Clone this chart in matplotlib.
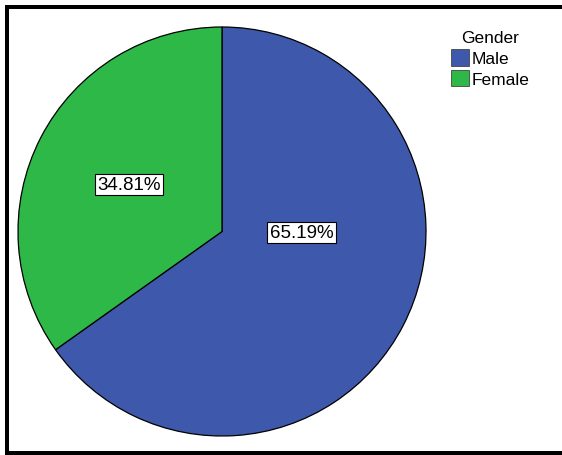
import matplotlib
matplotlib.use("Agg")
import matplotlib.pyplot as plt
from matplotlib.patches import Patch
from matplotlib.lines import Line2D
import numpy as np

plt.rcParams['font.family'] = ['Liberation Sans', 'DejaVu Sans']

categories = ["Male", "Female"]
percentages = [65.19, 34.81]
colors = ["#3E58AC", "#2EB848"]

W, H = 562, 456
fig = plt.figure(figsize=(W / 100, H / 100), dpi=100)
fig.patch.set_facecolor("white")

# axes sized so the unit circle fills the pie area
left, right, top, bottom = 18, 426, 28, 437
ax = fig.add_axes([left / W, 1 - bottom / H, (right - left) / W, (bottom - top) / H])
wedges, _ = ax.pie(percentages, colors=colors, startangle=90, counterclock=False,
                   radius=1.0, center=(0, 0),
                   wedgeprops=dict(edgecolor="black", linewidth=0.9))
ax.set_xlim(-1, 1)
ax.set_ylim(-1, 1)
ax.set_aspect("auto")
ax.axis("off")

# percentage labels
label_pos = {"Male": (0.39, -0.005), "Female": (-0.455, 0.23)}
for cat, pct in zip(categories, percentages):
    x, y = label_pos[cat]
    ax.text(x, y, f"{pct:.2f}%", ha="center", va="center", fontsize=13.5,
            bbox=dict(boxstyle="square,pad=0.12", fc="white", ec="black", lw=0.8))

# legend
handles = [Patch(facecolor=c, edgecolor="#444444", linewidth=0.6) for c in colors]
leg = fig.legend(handles, categories, title="Gender", loc="upper left",
                 bbox_to_anchor=(448 / W, 1 - 28 / H), frameon=False,
                 fontsize=12.5, title_fontsize=12.5, handlelength=1.0,
                 handleheight=1.1, handletextpad=0.15, labelspacing=0.2,
                 borderaxespad=0, borderpad=0.2)

# outer frame (open on the right)
lw_pt = 4 * 72 / 100
xl, yt, yb = 7 / W, 1 - 8 / H, 1 - 453.5 / H
fig.add_artist(Line2D([1.02, xl, xl, 1.02], [yt, yt, yb, yb],
                      transform=fig.transFigure, color="black",
                      linewidth=lw_pt, solid_joinstyle="miter"))

fig.savefig("out.png", dpi=100)
